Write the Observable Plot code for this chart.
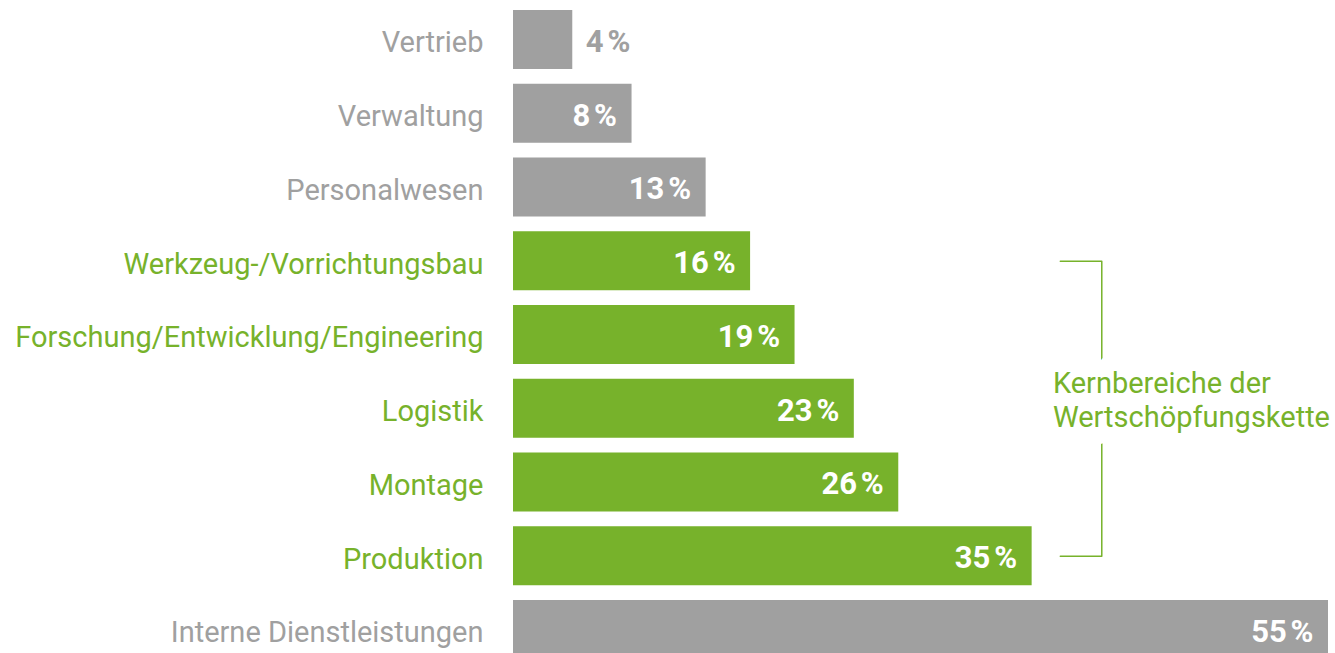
<!DOCTYPE html>
<html><head><meta charset="utf-8">
<script src="https://cdn.jsdelivr.net/npm/d3@7"></script>
<script src="https://cdn.jsdelivr.net/npm/@observablehq/plot@0.6"></script>
<style>html,body{margin:0;padding:0;background:#fff;overflow:hidden}</style>
</head><body><div id="chart"></div>
<script>
const categories = ["Vertrieb","Verwaltung","Personalwesen","Werkzeug-/Vorrichtungsbau","Forschung/Entwicklung/Engineering","Logistik","Montage","Produktion","Interne Dienstleistungen"];
const values = [4,8,13,16,19,23,26,35,55];
const groups = ["other","other","other","core","core","core","core","core","other"];
const bracketLabel = "Kernbereiche der\nWertschöpfungskette";
const bracketRange = ["Werkzeug-/Vorrichtungsbau","Produktion"];
const bracketX = [36.9, 39.7];
const bracketTextX = 36.4;
const bracketTextRow = "Logistik";

const GREEN = "#77b22b", GRAY = "#a0a0a0";
const data = categories.map((c,i)=>({category:c, value:values[i], group:groups[i], label:`${values[i]}\u202F%`}));
const color = d => d.group === "core" ? GREEN : GRAY;
const inside = data.filter(d => d.value >= 6), outside = data.filter(d => d.value < 6);
const bracket = [
  {x: bracketX[0], y: bracketRange[0]},
  {x: bracketX[1], y: bracketRange[0]},
  {x: bracketX[1], y: bracketRange[1]},
  {x: bracketX[0], y: bracketRange[1]}
];
const note = [{x: bracketTextX, y: bracketTextRow, t: bracketLabel}];
const noteOpts = {x: "x", y: "y", text: "t", textAnchor: "start", lineAnchor: "middle", dy: -10, lineHeight: 1.2, fontSize: 29};

const chart = Plot.plot({
  width: 1335, height: 653,
  marginLeft: 513, marginRight: 7, marginTop: 0, marginBottom: 0,
  x: {domain: [0, 55], axis: null},
  y: {domain: categories, range: [-4.75, 673.75], padding: 0.2, axis: null, round: false},
  color: {type: "identity"},
  style: {fontFamily: "Roboto, sans-serif", background: "#fff"},
  marks: [
    Plot.barX(data, {x: "value", y: "category", fill: color}),
    Plot.text(data, {x: 0, y: "category", text: "category", textAnchor: "end", dx: -30, dy: 3, fill: color, fontSize: 29}),
    Plot.text(inside, {x: "value", y: "category", text: "label", textAnchor: "end", dx: -15, dy: 2, fill: "white", fontWeight: "bold", fontSize: 31}),
    Plot.text(outside, {x: "value", y: "category", text: "label", textAnchor: "start", dx: 13, dy: 2, fill: GRAY, fontWeight: "bold", fontSize: 31}),
    Plot.line(bracket, {x: "x", y: "y", stroke: GREEN, strokeWidth: 1.5}),
    Plot.text(note, {...noteOpts, fill: "white", stroke: "white", strokeWidth: 34, strokeLinejoin: "round"}),
    Plot.text(note, {...noteOpts, fill: GREEN})
  ]
});
document.getElementById("chart").appendChild(chart);
</script>
</body></html>
